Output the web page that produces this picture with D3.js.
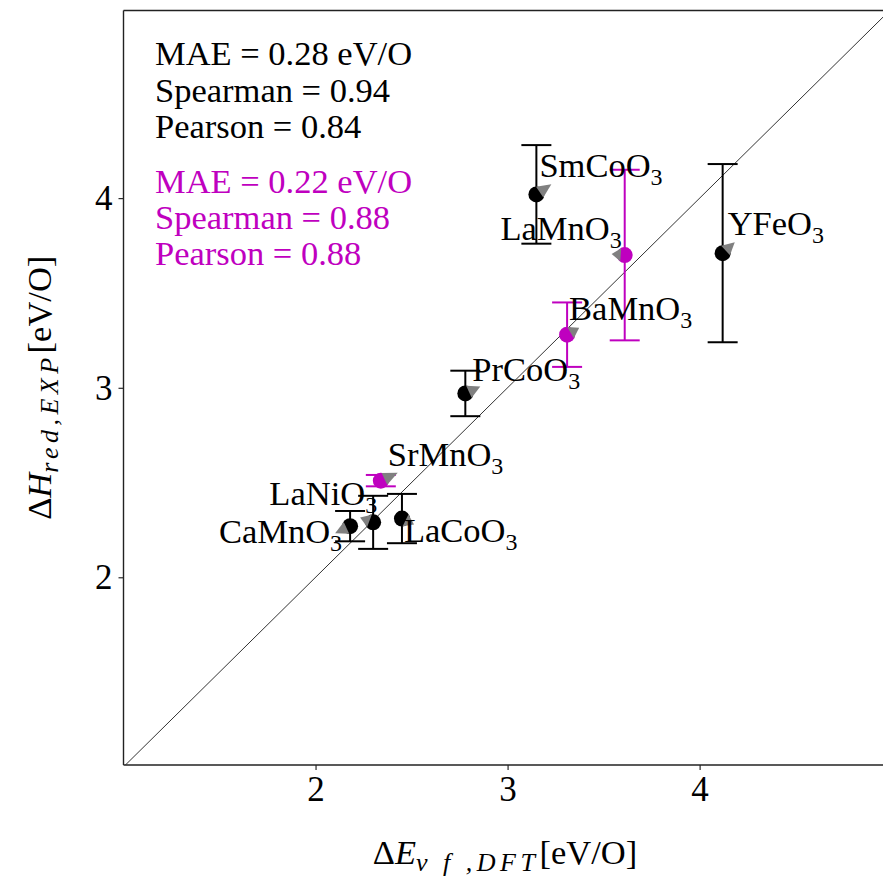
<!DOCTYPE html>
<html>
<head>
<meta charset="utf-8">
<script src="https://cdn.jsdelivr.net/npm/d3@7"></script>
<style>
  html, body { margin: 0; padding: 0; background: #fff; }
  svg { display: block; }
  text { font-family: "Liberation Serif", "Times New Roman", serif; }
</style>
</head>
<body>
<svg id="chart" width="883" height="880"></svg>
<script>
// Compounds and their DFT / experimental reduction energies (eV/O)
const names   = ["CaMnO3", "LaNiO3", "LaCoO3", "SrMnO3", "PrCoO3", "BaMnO3", "LaMnO3", "SmCoO3", "YFeO3"];
const dftE    = [2.18, 2.30, 2.45, 2.34, 2.78, 3.31, 3.61, 3.15, 4.12];
const expH    = [2.27, 2.29, 2.31, 2.51, 2.97, 3.28, 3.70, 4.02, 3.71];
const expErr  = [0.08, 0.14, 0.13, 0.03, 0.12, 0.17, 0.45, 0.26, 0.47];
const group   = ["k", "k", "k", "m", "k", "m", "m", "k", "k"];
// shift of each compound (grey arrow heads)
const shiftX  = [-0.078, -0.068, 0.063, 0.088, 0.078, 0.063, -0.068, 0.078, 0.063];
const shiftY  = [-0.037, 0.026, -0.032, 0.042, 0.037, 0.037, 0.005, 0.053, 0.058];

// axis limits and ticks
const xLim = [1, 4.955];
const yLim = [1.01, 4.99];
const xTicks = [2, 3, 4];
const yTicks = [2, 3, 4];

// summary statistics
const statsAll = ["MAE = 0.28 eV/O", "Spearman = 0.94", "Pearson = 0.84"];
const statsSub = ["MAE = 0.22 eV/O", "Spearman = 0.88", "Pearson = 0.88"];

const colors = { k: "#000000", m: "#bf00bf" };

// label placement relative to the marker (px) and anchor
const labelPlace = {
  CaMnO3: { dx: -8,  dy: 17, anchor: "end" },
  LaNiO3: { dx: 4,   dy: -17, anchor: "end" },
  LaCoO3: { dx: 2,   dy: 23, anchor: "start" },
  SrMnO3: { dx: 7,   dy: -15, anchor: "start" },
  PrCoO3: { dx: 7,   dy: -12, anchor: "start" },
  BaMnO3: { dx: 2,   dy: -15, anchor: "start" },
  LaMnO3: { dx: -3,  dy: -15, anchor: "end" },
  SmCoO3: { dx: 3,   dy: -17, anchor: "start" },
  YFeO3:  { dx: 5,   dy: -18, anchor: "start" }
};

const FS = 34.5;      // main text size
const SUB = 24;       // subscript size
const AXSUB = 26;     // axis title subscript size

const svg = d3.select("#chart");
const plot = { left: 123.5, right: 883, top: 10.5, bottom: 765 };

const x = d3.scaleLinear().domain(xLim).range([plot.left, plot.right]);
const y = d3.scaleLinear().domain(yLim).range([plot.bottom, plot.top]);

svg.append("defs").append("clipPath").attr("id", "clip")
  .append("rect")
  .attr("x", plot.left).attr("y", plot.top)
  .attr("width", plot.right - plot.left).attr("height", plot.bottom - plot.top);

// axes
const xAxis = d3.axisBottom(x).tickValues(xTicks).tickFormat(d3.format("d")).tickSize(5).tickPadding(5);
const yAxis = d3.axisLeft(y).tickValues(yTicks).tickFormat(d3.format("d")).tickSize(5).tickPadding(6);

const gx = svg.append("g").attr("transform", `translate(0,${plot.bottom})`).call(xAxis);
const gy = svg.append("g").attr("transform", `translate(${plot.left},0)`).call(yAxis);
[gx, gy].forEach(g => {
  g.select(".domain").remove();
  g.selectAll(".tick line").attr("stroke", "#000").attr("stroke-width", 1);
  g.selectAll(".tick text")
    .attr("fill", "#000")
    .style("font-family", "'Liberation Serif', serif")
    .style("font-size", "35px");
});
gx.selectAll(".tick text").attr("dy", "0.74em");
gy.selectAll(".tick text").attr("dy", "0.33em");

// frame
const frame = svg.append("g").attr("stroke", "#222").attr("stroke-width", 1.4).attr("fill", "none");
frame.append("line").attr("x1", x(xLim[0])).attr("x2", x(xLim[1])).attr("y1", y(yLim[0])).attr("y2", y(yLim[0]));
frame.append("line").attr("x1", x(xLim[0])).attr("x2", x(xLim[1])).attr("y1", y(yLim[1])).attr("y2", y(yLim[1]));
frame.append("line").attr("x1", x(xLim[0])).attr("x2", x(xLim[0])).attr("y1", y(yLim[0])).attr("y2", y(yLim[1]));

// parity line y = x
svg.append("line")
  .attr("clip-path", "url(#clip)")
  .attr("x1", x(0.9)).attr("y1", y(0.9))
  .attr("x2", x(5.1)).attr("y2", y(5.1))
  .attr("stroke", "#333").attr("stroke-width", 1);

const data = names.map((n, i) => ({
  name: n, x: dftE[i], y: expH[i], err: expErr[i], g: group[i], sx: shiftX[i], sy: shiftY[i]
}));

// error bars
const eb = svg.append("g");
data.forEach(d => {
  const c = colors[d.g];
  const cap = 15;
  eb.append("line")
    .attr("x1", x(d.x)).attr("x2", x(d.x))
    .attr("y1", y(d.y - d.err)).attr("y2", y(d.y + d.err))
    .attr("stroke", c).attr("stroke-width", 2);
  [d.y - d.err, d.y + d.err].forEach(v => {
    eb.append("line")
      .attr("x1", x(d.x) - cap).attr("x2", x(d.x) + cap)
      .attr("y1", y(v)).attr("y2", y(v))
      .attr("stroke", c).attr("stroke-width", 2);
  });
});

// markers
svg.append("g").selectAll("circle").data(data).join("circle")
  .attr("cx", d => x(d.x)).attr("cy", d => y(d.y))
  .attr("r", 8)
  .attr("fill", d => colors[d.g]);

// grey arrow heads: tip at the shifted position, base partway out from the marker
svg.append("g").selectAll("path").data(data).join("path")
  .attr("fill", "#808080")
  .attr("d", d => {
    const px = x(d.x), py = y(d.y);
    const tx = x(d.x + d.sx), ty = y(d.y + d.sy);
    const vx = tx - px, vy = ty - py;
    const len = Math.hypot(vx, vy);
    const ux = vx / len, uy = vy / len;
    const bx = px + ux * 4, by = py + uy * 4;
    const w = 6.5;
    return `M${tx},${ty}L${bx - uy * w},${by + ux * w}L${bx + uy * w},${by - ux * w}Z`;
  });

// compound labels with subscripted digits
const lab = svg.append("g");
data.forEach(d => {
  const p = labelPlace[d.name];
  const m = d.name.match(/^(.*?)(\d+)$/);
  const t = lab.append("text")
    .attr("x", x(d.x) + p.dx).attr("y", y(d.y) + p.dy)
    .attr("text-anchor", p.anchor)
    .attr("fill", "#000")
    .style("font-size", FS + "px");
  t.append("tspan").text(m[1]);
  t.append("tspan").attr("dy", 8).style("font-size", SUB + "px").text(m[2]);
});

// statistics
const st = svg.append("g").style("font-size", FS + "px");
statsAll.forEach((s, i) => {
  st.append("text").attr("x", 155).attr("y", 65 + i * 36.5).attr("fill", "#000").text(s);
});
statsSub.forEach((s, i) => {
  st.append("text").attr("x", 155).attr("y", 193 + i * 36).attr("fill", colors.m).text(s);
});

// axis titles
const xt = svg.append("text")
  .attr("x", 505).attr("y", 864)
  .attr("text-anchor", "middle")
  .style("font-size", FS + "px").attr("fill", "#000");
xt.append("tspan").text("Δ");
xt.append("tspan").style("font-style", "italic").text("E");
xt.append("tspan").attr("dy", 7).style("font-style", "italic").style("font-size", AXSUB + "px")
  .style("letter-spacing", "4.5px").text("v f ,DFT");
xt.append("tspan").attr("dy", -7).text("[eV/O]");

const yt = svg.append("text")
  .attr("transform", `translate(51,${(plot.top + plot.bottom) / 2}) rotate(-90)`)
  .attr("text-anchor", "middle")
  .style("font-size", FS + "px").attr("fill", "#000");
yt.append("tspan").text("Δ");
yt.append("tspan").style("font-style", "italic").text("H");
yt.append("tspan").attr("dy", 7).style("font-style", "italic").style("font-size", AXSUB + "px")
  .style("letter-spacing", "4.5px").text("red,EXP");
yt.append("tspan").attr("dy", -7).text("[eV/O]");
</script>
</body>
</html>
